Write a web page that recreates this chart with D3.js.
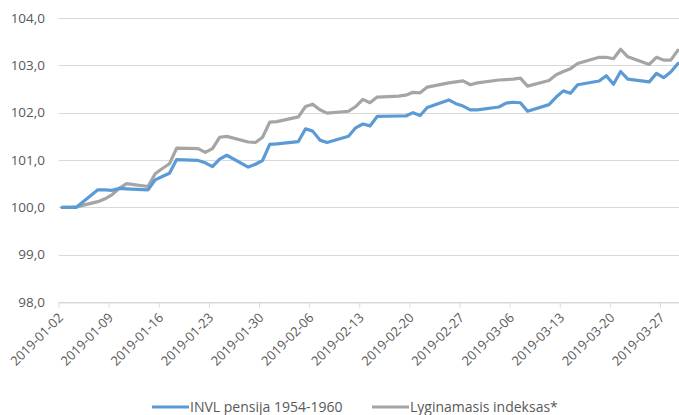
<!DOCTYPE html>
<html>
<head>
<meta charset="utf-8">
<script src="https://cdn.jsdelivr.net/npm/d3@7"></script>
<style>
  body { margin: 0; background: #fff; }
  svg { display: block; font-family: "Open Sans", "Liberation Sans", sans-serif; }
</style>
</head>
<body>
<div id="chart"></div>
<script>
// Business days shown on the chart
const dates = [
    "2019-01-02", "2019-01-03", "2019-01-04", "2019-01-07", "2019-01-08", "2019-01-09", "2019-01-10", "2019-01-11",
    "2019-01-14", "2019-01-15", "2019-01-16", "2019-01-17", "2019-01-18", "2019-01-21", "2019-01-22", "2019-01-23",
    "2019-01-24", "2019-01-25", "2019-01-28", "2019-01-29", "2019-01-30", "2019-01-31", "2019-02-01", "2019-02-04",
    "2019-02-05", "2019-02-06", "2019-02-07", "2019-02-08", "2019-02-11", "2019-02-12", "2019-02-13", "2019-02-14",
    "2019-02-15", "2019-02-18", "2019-02-19", "2019-02-20", "2019-02-21", "2019-02-22", "2019-02-25", "2019-02-26",
    "2019-02-27", "2019-02-28", "2019-03-01", "2019-03-04", "2019-03-05", "2019-03-06", "2019-03-07", "2019-03-08",
    "2019-03-11", "2019-03-12", "2019-03-13", "2019-03-14", "2019-03-15", "2019-03-18", "2019-03-19", "2019-03-20",
    "2019-03-21", "2019-03-22", "2019-03-25", "2019-03-26", "2019-03-27", "2019-03-28", "2019-03-29"
];

const invlValues = [
    100.00, 100.00, 100.00, 100.37, 100.37, 100.36, 100.40, 100.39,
    100.37, 100.58, 100.65, 100.72, 101.01, 100.99, 100.94, 100.86,
    101.02, 101.10, 100.85, 100.91, 100.99, 101.33, 101.34, 101.39,
    101.66, 101.61, 101.42, 101.37, 101.50, 101.68, 101.76, 101.72,
    101.92, 101.93, 101.93, 102.00, 101.94, 102.11, 102.27, 102.19,
    102.14, 102.06, 102.06, 102.12, 102.20, 102.22, 102.21, 102.03,
    102.17, 102.33, 102.46, 102.41, 102.59, 102.67, 102.78, 102.60,
    102.87, 102.71, 102.65, 102.83, 102.74, 102.86, 103.04
];

const indexValues = [
    100.00, 100.00, 100.01, 100.12, 100.18, 100.27, 100.40, 100.50,
    100.44, 100.71, 100.82, 100.92, 101.25, 101.24, 101.16, 101.24,
    101.48, 101.50, 101.38, 101.37, 101.48, 101.80, 101.81, 101.91,
    102.13, 102.18, 102.06, 101.99, 102.03, 102.13, 102.28, 102.21,
    102.33, 102.35, 102.37, 102.43, 102.42, 102.54, 102.63, 102.65,
    102.67, 102.59, 102.63, 102.69, 102.70, 102.71, 102.73, 102.56,
    102.68, 102.80, 102.87, 102.93, 103.04, 103.17, 103.17, 103.14,
    103.34, 103.18, 103.02, 103.17, 103.11, 103.11, 103.32
];

const seriesNames = ["INVL pensija 1954-1960", "Lyginamasis indeksas*"];
const yTicks = [98, 99, 100, 101, 102, 103, 104];
const xTickLabels = [
    "2019-01-02", "2019-01-09", "2019-01-16", "2019-01-23", "2019-01-30", "2019-02-06", "2019-02-13",
    "2019-02-20", "2019-02-27", "2019-03-06", "2019-03-13", "2019-03-20", "2019-03-27"
];

const W = 679, H = 415;
const colors = ["#5b9bd5", "#a5a5a5"];
const textColor = "#595959";
const gridColor = "#d9d9d9";

const parseDay = d3.utcParse("%Y-%m-%d");
// Excel date axis: each point sits in the middle of its day
const noon = s => d3.utcHour.offset(parseDay(s), 12);

const svg = d3.select("#chart").append("svg")
    .attr("width", W)
    .attr("height", H);

const x = d3.scaleUtc()
    .domain([parseDay("2019-01-02"), parseDay("2019-03-30")])
    .range([58.5, 681.5]);

const y = d3.scaleLinear()
    .domain([98, 104])
    .range([302, 18]);

const fmt = v => d3.format(".1f")(v).replace(".", ",");

// Horizontal gridlines
svg.append("g")
    .selectAll("line")
    .data(yTicks)
    .enter()
    .append("line")
    .attr("x1", x.range()[0])
    .attr("x2", W)
    .attr("y1", d => Math.round(y(d)) + 0.5)
    .attr("y2", d => Math.round(y(d)) + 0.5)
    .attr("stroke", gridColor)
    .attr("stroke-width", 1);

// Y labels
svg.append("g")
    .selectAll("text")
    .data(yTicks)
    .enter()
    .append("text")
    .attr("x", 45)
    .attr("y", d => y(d))
    .attr("dy", "0.35em")
    .attr("text-anchor", "end")
    .attr("fill", textColor)
    .style("font-size", "13.5px")
    .text(fmt);

// X axis with rotated date labels
const xAxis = svg.append("g")
    .attr("transform", `translate(0, ${Math.round(y(98)) + 0.5})`)
    .call(d3.axisBottom(x)
        .tickValues(xTickLabels.map(parseDay))
        .tickSize(5)
        .tickSizeOuter(0)
        .tickFormat(d3.utcFormat("%Y-%m-%d")));

xAxis.select(".domain").attr("stroke", gridColor);
xAxis.selectAll(".tick line").attr("stroke", gridColor);
xAxis.selectAll(".tick text")
    .attr("fill", textColor)
    .style("font-size", "13px")
    .style("font-family", "\"Open Sans\", sans-serif")
    .attr("text-anchor", "end")
    .attr("dy", "0")
    .attr("y", 0)
    .attr("transform", "translate(5, 16) rotate(-45)");

// Lines
const line = d3.line()
    .x(d => x(d.date))
    .y(d => y(d.value));

const seriesData = [invlValues, indexValues].map(vals =>
    dates.map((s, i) => ({ date: noon(s), value: vals[i] })));

// draw the index first so the fund line sits on top where they overlap
[1, 0].forEach(k => {
    svg.append("path")
        .datum(seriesData[k])
        .attr("fill", "none")
        .attr("stroke", colors[k])
        .attr("stroke-width", 3.2)
        .attr("stroke-linejoin", "round")
        .attr("stroke-linecap", "round")
        .attr("d", line);
});

// Legend
const legendX = [152, 372];
const legend = svg.append("g")
    .selectAll("g")
    .data(seriesNames)
    .enter()
    .append("g")
    .attr("transform", (d, i) => `translate(${legendX[i]}, 407)`);

legend.append("line")
    .attr("x1", 0)
    .attr("x2", 37)
    .attr("stroke", (d, i) => colors[i])
    .attr("stroke-width", 3.2);

legend.append("text")
    .attr("x", 38)
    .attr("dy", "0.35em")
    .attr("fill", textColor)
    .style("font-size", "14px")
    .text(d => d);
</script>
</body>
</html>
